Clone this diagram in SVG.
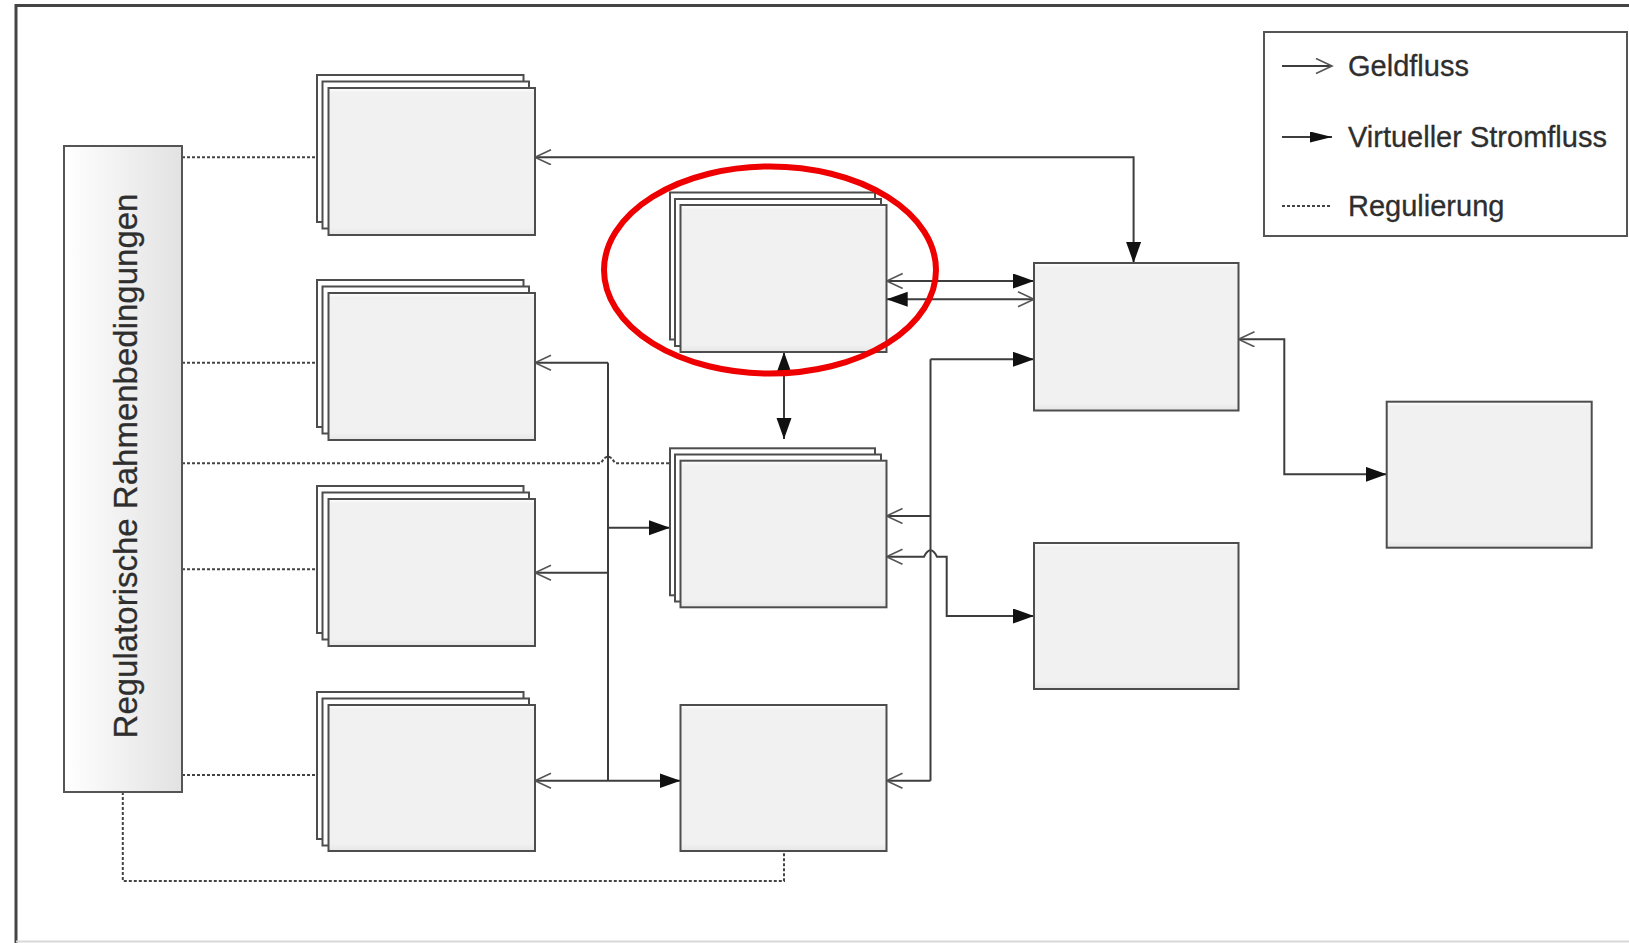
<svg xmlns="http://www.w3.org/2000/svg" width="1629" height="943" viewBox="0 0 1629 943">
<defs>
  <linearGradient id="boxFill" x1="0" y1="0" x2="0" y2="1">
    <stop offset="0" stop-color="#ffffff"/>
    <stop offset="0.03" stop-color="#f1f1f1"/>
    <stop offset="0.95" stop-color="#f1f1f1"/>
    <stop offset="1" stop-color="#e6e6e6"/>
  </linearGradient>
  <linearGradient id="regFill" x1="0" y1="0" x2="1" y2="0">
    <stop offset="0" stop-color="#ffffff"/>
    <stop offset="1" stop-color="#e2e2e2"/>
  </linearGradient>
  <marker id="filled" markerUnits="userSpaceOnUse" markerWidth="24" markerHeight="16" refX="21" refY="7.5" orient="auto-start-reverse">
    <path d="M0,0 L21,7.5 L0,15 Z" fill="#111"/>
  </marker>
  <marker id="open" markerUnits="userSpaceOnUse" markerWidth="20" markerHeight="18" refX="17" refY="8" orient="auto-start-reverse">
    <path d="M1,0.5 L17,8 L1,15.5" fill="none" stroke="#555" stroke-width="1.6"/>
  </marker>
  <marker id="filledS" markerUnits="userSpaceOnUse" markerWidth="24" markerHeight="12" refX="22" refY="5.5" orient="auto">
    <path d="M0,0 L22,5.5 L0,11 Z" fill="#111"/>
  </marker>
</defs>
<style>
  .frame { fill: none; stroke: #444; stroke-width: 3; }
  .box { fill: url(#boxFill); stroke: #4d4d4d; stroke-width: 2; }
  .back { fill: #ffffff; stroke: #4d4d4d; stroke-width: 2; }
  .reg { fill: url(#regFill); stroke: #555; stroke-width: 2; }
  .line { fill: none; stroke: #3d3d3d; stroke-width: 2; }
  .dot { fill: none; stroke: #444; stroke-width: 2; stroke-dasharray: 3 2; }
  .txt { font-family: "Liberation Sans", Arial, sans-serif; fill: #2e2e2e; stroke: #2e2e2e; stroke-width: 0.3; }
  .legend { fill: #fff; stroke: #555; stroke-width: 2; }
  .ring { fill: none; stroke: #ee0000; stroke-width: 6; }
</style>
<rect width="1629" height="943" fill="#ffffff"/>
<g id="frame">
  <path class="frame" d="M16,943 L16,5.5 L1629,5.5"/>
  <line x1="16" y1="941.5" x2="1629" y2="941.5" stroke="#d8d8d8" stroke-width="2"/>
</g>

<g id="connectors">
  <!-- Regulierung (dotted) -->
  <path class="dot" d="M182,157.3 L317,157.3"/>
  <path class="dot" d="M182,362.7 L317,362.7"/>
  <path class="dot" d="M182,463.3 L601,463.3 Q608,450 615,463.3 L670,463.3"/>
  <path class="dot" d="M182,569.3 L317,569.3"/>
  <path class="dot" d="M182,775 L317,775"/>
  <path class="dot" d="M122.8,792 L122.8,881 L784,881 L784,851"/>

  <!-- N1 <-> A -->
  <path class="line" d="M535,157.3 L1133.6,157.3 L1133.6,263" marker-start="url(#open)" marker-end="url(#filled)"/>
  <!-- M1 <-> A -->
  <path class="line" d="M886.7,281 L1034,281" marker-start="url(#open)" marker-end="url(#filled)"/>
  <path class="line" d="M886.7,299.3 L1034,299.3" marker-start="url(#filled)" marker-end="url(#open)"/>
  <!-- M1 <-> B -->
  <path class="line" d="M784,352 L784,439" marker-start="url(#filled)" marker-end="url(#filled)"/>

  <!-- left bus -->
  <path class="line" d="M608,362.7 L608,780.7"/>
  <path class="line" d="M608,362.7 L535,362.7" marker-end="url(#open)"/>
  <path class="line" d="M608,527.7 L670,527.7" marker-end="url(#filled)"/>
  <path class="line" d="M608,572.7 L535,572.7" marker-end="url(#open)"/>
  <path class="line" d="M535,780.7 L680.5,780.7" marker-start="url(#open)" marker-end="url(#filled)"/>

  <!-- right bus -->
  <path class="line" d="M930.5,359.3 L930.5,780.7"/>
  <path class="line" d="M930.5,359.3 L1034,359.3" marker-end="url(#filled)"/>
  <path class="line" d="M930.5,516 L886.5,516" marker-end="url(#open)"/>
  <path class="line" d="M930.5,780.7 L886.5,780.7" marker-end="url(#open)"/>

  <!-- B <-> C -->
  <path class="line" d="M886.5,556.7 L924,556.7 Q930.5,544 937,556.7 L946.7,556.7 L946.7,616 L1034,616" marker-start="url(#open)" marker-end="url(#filled)"/>

  <!-- A <-> E -->
  <path class="line" d="M1238.5,339.3 L1284.3,339.3 L1284.3,474.3 L1386.7,474.3" marker-start="url(#open)" marker-end="url(#filled)"/>
</g>

<g id="reg">
  <rect class="reg" x="64" y="146" width="118" height="646"/>
  <text class="txt" transform="translate(136.5,466) rotate(-90)" text-anchor="middle" font-size="33">Regulatorische Rahmenbedingungen</text>
</g>

<g id="n1">
  <rect class="back" x="317" y="75" width="206.5" height="147"/>
  <rect class="back" x="322.5" y="81.5" width="206.5" height="147"/>
  <rect class="box" x="328.5" y="88" width="206.5" height="147"/>
</g>
<g id="n2">
  <rect class="back" x="317" y="280" width="206.5" height="147"/>
  <rect class="back" x="322.5" y="286.5" width="206.5" height="147"/>
  <rect class="box" x="328.5" y="293" width="206.5" height="147"/>
</g>
<g id="n3">
  <rect class="back" x="317" y="486" width="206.5" height="147"/>
  <rect class="back" x="322.5" y="492.5" width="206.5" height="147"/>
  <rect class="box" x="328.5" y="499" width="206.5" height="147"/>
</g>
<g id="n4">
  <rect class="back" x="317" y="692" width="206.5" height="147"/>
  <rect class="back" x="322.5" y="698.5" width="206.5" height="147"/>
  <rect class="box" x="328.5" y="705" width="206.5" height="146"/>
</g>

<g id="m1">
  <rect class="back" x="670" y="192.5" width="205" height="147"/>
  <rect class="back" x="675" y="199" width="206" height="147"/>
  <rect class="box" x="680.5" y="205" width="206" height="147"/>
</g>
<g id="b">
  <rect class="back" x="670" y="448.3" width="205" height="147"/>
  <rect class="back" x="675" y="454.5" width="206" height="147"/>
  <rect class="box" x="680.5" y="460.7" width="206" height="146.6"/>
</g>
<g id="d">
  <rect class="box" x="680.5" y="705" width="206" height="146"/>
</g>
<g id="a">
  <rect class="box" x="1034" y="263" width="204.5" height="147.5"/>
</g>
<g id="c">
  <rect class="box" x="1034" y="543" width="204.5" height="146"/>
</g>
<g id="e">
  <rect class="box" x="1386.7" y="401.7" width="205" height="146"/>
</g>

<g id="highlight">
  <ellipse class="ring" cx="770" cy="270" rx="166" ry="103.5"/>
</g>

<g id="legend">
  <rect class="legend" x="1264" y="32" width="363" height="204"/>
  <path class="line" d="M1282,66 L1332,66" stroke-width="1.5" marker-end="url(#open)"/>
  <text class="txt" x="1348" y="76" font-size="29">Geldfluss</text>
  <path class="line" d="M1282,137 L1332,137" marker-end="url(#filledS)"/>
  <text class="txt" x="1348" y="147" font-size="29">Virtueller Stromfluss</text>
  <path class="dot" d="M1282,206 L1332,206" stroke-width="1.5" stroke-dasharray="2 1.5"/>
  <text class="txt" x="1348" y="216" font-size="29">Regulierung</text>
</g>
</svg>
